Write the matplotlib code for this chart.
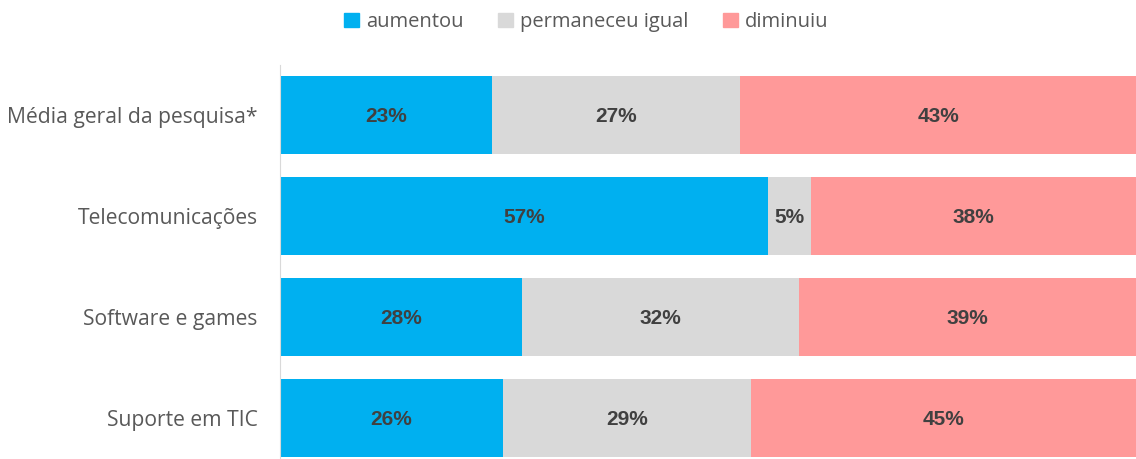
import numpy as np
import matplotlib
matplotlib.use('AGG')
import matplotlib.pyplot as plt
from matplotlib.patches import Patch

categorias = ['Média geral da pesquisa*', 'Telecomunicações', 'Software e games', 'Suporte em TIC']
aumentou = [23, 57, 28, 26]
igual = [27, 5, 32, 29]
diminuiu = [43, 38, 39, 45]
series = ['aumentou', 'permaneceu igual', 'diminuiu']
cores = ['#00B0F0', '#D9D9D9', '#FF9999']

dados = np.array([aumentou, igual, diminuiu], dtype=float)
total = dados.sum(axis=0)
frac = dados / total  # barras 100% empilhadas

fig = plt.figure(figsize=(11.36, 4.59), dpi=100)
ax = fig.add_axes([280/1136, 0, 1 - 280/1136, (459-65)/459])

y = np.arange(len(categorias))
esq = np.zeros(len(categorias))
for k in range(3):
    ax.barh(y, frac[k], left=esq, height=0.77, color=cores[k], label=series[k])
    for i in range(len(categorias)):
        ax.text(esq[i] + frac[k][i]/2, y[i], '%d%%' % dados[k][i], ha='center', va='center_baseline',
                fontsize=15, fontweight='bold', color='#404040', family='Liberation Sans')
    esq += frac[k]

ax.set_xlim(0, 1)
ax.set_ylim(3.406, -0.495)
ax.set_yticks(y)
ax.set_yticklabels(categorias, fontsize=15.2, color='#595959', family='Open Sans')
ax.tick_params(axis='y', length=0, pad=16)
ax.set_xticks([])
for s in ['top', 'right', 'bottom']:
    ax.spines[s].set_visible(False)
ax.spines['left'].set_color('#D9D9D9')

alca = [Patch(color=c) for c in cores]
fig.legend(alca, series, loc='center', bbox_to_anchor=(0.516, 1 - 22/459), ncol=3, frameon=False,
           prop={'family': 'Open Sans', 'size': 14.5}, labelcolor='#595959',
           handlelength=0.75, handleheight=0.75, handletextpad=0.35, columnspacing=1.7)

fig.savefig('out.png', dpi=100)
